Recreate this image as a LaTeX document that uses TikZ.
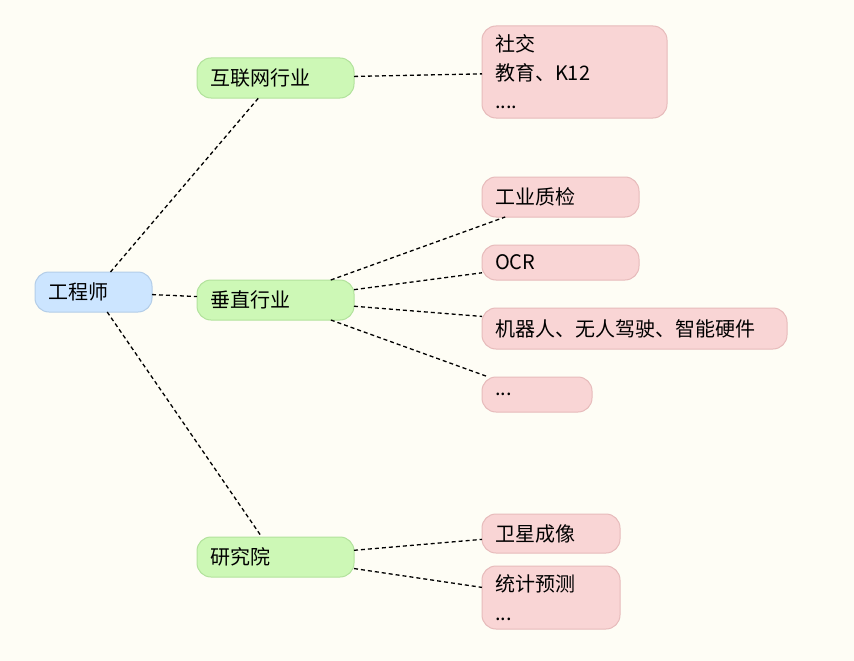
\documentclass[tikz,border=0pt]{standalone}
\usepackage{fontspec}
\setmainfont{Noto Sans CJK SC}
\usepackage{tikz}
\usetikzlibrary{positioning}
\definecolor{paper}{HTML}{FEFDF5}
\definecolor{rootfill}{HTML}{CCE5FF}
\definecolor{rootline}{HTML}{B3CDE8}
\definecolor{midfill}{HTML}{CDF8B6}
\definecolor{midline}{HTML}{B2E29C}
\definecolor{leaffill}{HTML}{F9D5D5}
\definecolor{leafline}{HTML}{E7BBBB}

\begin{document}
\begin{tikzpicture}[node distance=28pt]
\tikzstyle{box}=[draw, line width=1pt, rounded corners=14pt, align=left, inner xsep=13pt, inner ysep=0pt, outer sep=0pt, font=\fontsize{20}{28.5}\selectfont]
\tikzstyle{rootbox}=[box, fill=rootfill, draw=rootline]
\tikzstyle{midbox}=[box, fill=midfill, draw=midline, text width=131pt, minimum height=40pt]
\tikzstyle{leafbox}=[box, fill=leaffill, draw=leafline]
\tikzstyle{link}=[line width=1.3pt, dash pattern=on 4pt off 3pt]
\fill[paper] (0,0) rectangle (854pt,-661pt);
\useasboundingbox (0,0) rectangle (854pt,-661pt);

\node[rootbox, text width=91pt, minimum height=40pt] (eng) at (93.5pt,-292pt) {工程师};
\node[midbox, above right=174pt and 45pt of eng] (net) {互联网行业};
\node[midbox, right=45pt of eng, yshift=-8pt] (vert) {垂直行业};
\node[midbox, below right=225pt and 45pt of eng] (res) {研究院};

\node[leafbox, text width=159pt, minimum height=92pt, right=128pt of net, yshift=6pt] (social) {社交\\教育、K12\\....};
\node[leafbox, text width=131pt, minimum height=40pt, right=128pt of vert, yshift=103pt] (qc) {工业质检};
\node[leafbox, text width=131pt, minimum height=35pt, below=of qc.south west, anchor=north west] (ocr) {OCR};
\node[leafbox, text width=279pt, minimum height=41pt, below=of ocr.south west, anchor=north west] (robot) {机器人、无人驾驶、智能硬件};
\node[leafbox, text width=84pt, minimum height=35pt, below=of robot.south west, anchor=north west] (more) {...};
\node[leafbox, text width=112pt, minimum height=39pt, right=128pt of res, yshift=23.5pt] (sat) {卫星成像};
\node[leafbox, text width=112pt, minimum height=63pt, below=13pt of sat.south west, anchor=north west] (stat) {统计预测\\...};

\draw[link] (eng) -- (net);
\draw[link] (eng) -- (vert);
\draw[link] (eng) -- (res);
\draw[link] (net) -- (social);
\draw[link] (vert) -- (qc);
\draw[link] (vert) -- (ocr);
\draw[link] (vert) -- (robot);
\draw[link] (vert) -- (more);
\draw[link] (res) -- (sat);
\draw[link] (res) -- (stat);
\end{tikzpicture}
\end{document}
